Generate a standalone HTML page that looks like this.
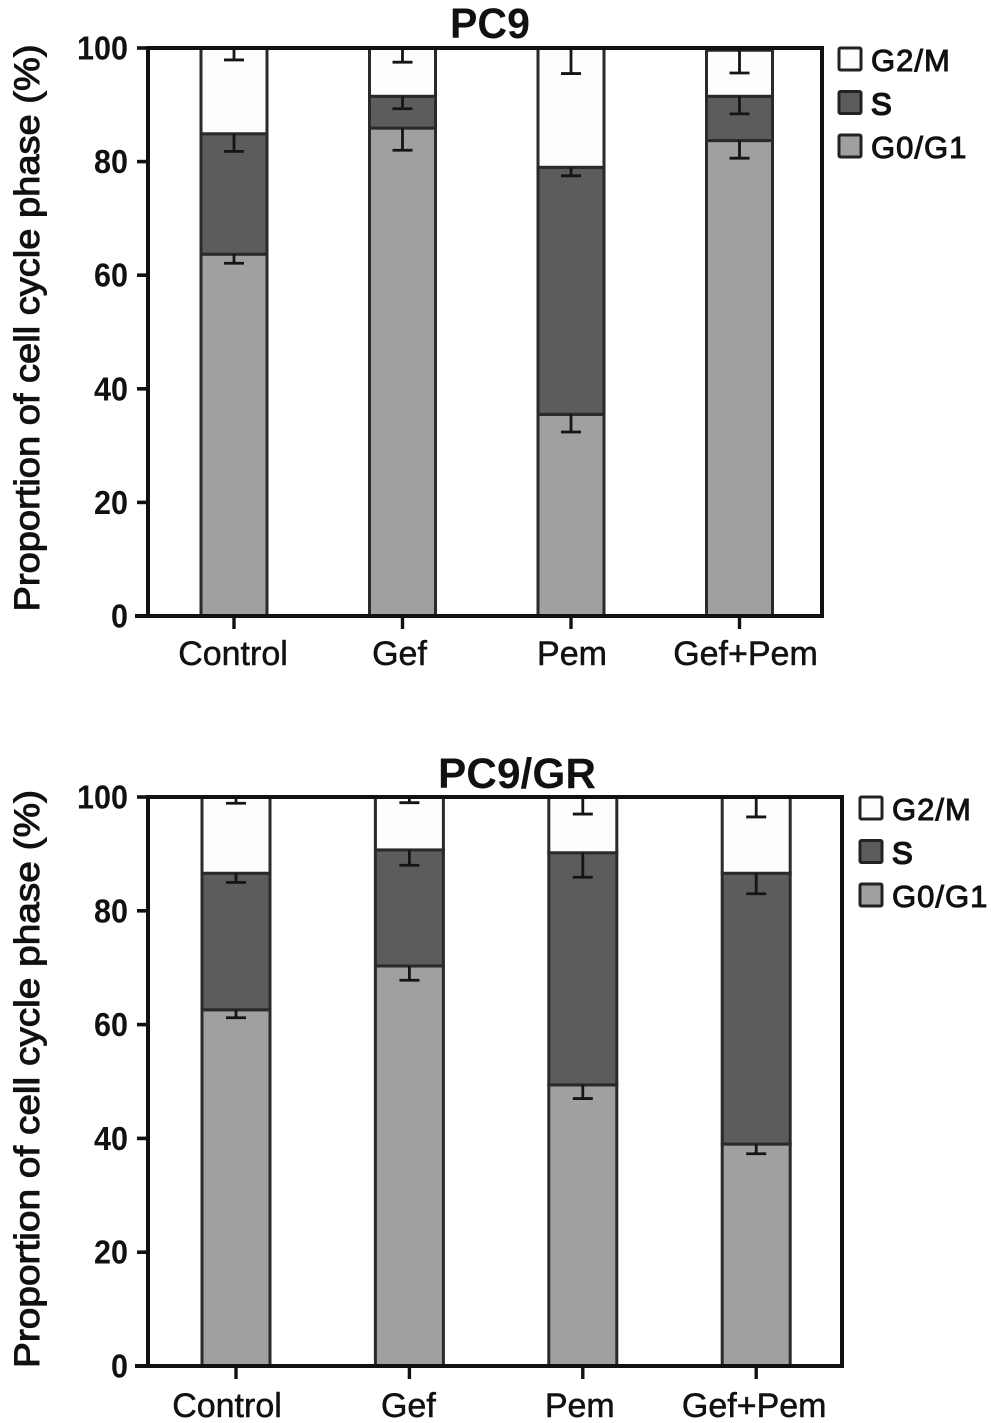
<!DOCTYPE html>
<html lang="en">
<head>
<meta charset="utf-8">
<title>Cell cycle phase proportions</title>
<style>
html,body{margin:0;padding:0;background:#fff;width:991px;height:1423px;overflow:hidden}
svg{display:block;font-family:"Liberation Sans",sans-serif}
</style>
</head>
<body>
<svg id="chart" xmlns="http://www.w3.org/2000/svg" width="991" height="1423" viewBox="0 0 991 1423"></svg>
<script>
const categories = ['Control', 'Gef', 'Pem', 'Gef+Pem'];
const tickLabels = [0, 20, 40, 60, 80, 100];
const legendLabels = ['G2/M', 'S', 'G0/G1'];

const pc9G0 = [63.7, 85.9, 35.5, 83.7];
const pc9S = [21.2, 5.6, 43.5, 7.8];
const pc9G2M = [15.1, 8.5, 21.0, 8.1];
const pc9G0Err = [1.6, 3.9, 3.1, 3.1];
const pc9SErr = [3.1, 2.2, 1.5, 3.1];
const pc9G2MErr = [2.1, 2.5, 4.5, 4.0];

const grG0 = [62.6, 70.3, 49.4, 39.0];
const grS = [24.0, 20.4, 40.8, 47.6];
const grG2M = [13.4, 9.3, 9.8, 13.4];
const grG0Err = [1.4, 2.5, 2.4, 1.7];
const grSErr = [1.6, 2.7, 4.3, 3.6];
const grG2MErr = [1.1, 1.0, 3.0, 3.5];

const svg = document.getElementById('chart');
const NS = 'http://www.w3.org/2000/svg';

function make(tag, attrs, parent, text) {
  const el = document.createElementNS(NS, tag);
  for (const k in attrs) el.setAttribute(k, attrs[k]);
  if (text !== undefined) el.textContent = text;
  parent.appendChild(el);
  return el;
}

function drawPanel(p) {
  const g = make('g', {}, svg);
  
  

  const y = v => p.y0 + (p.y100 - p.y0) * v / 100;
  const x = i => p.xStart + p.xStep * i;

  const title = make('text', {x: p.titleX, y: p.titleY, 'text-anchor': 'middle', 'font-size': 43, 'font-weight': 700, fill: '#111', textLength: p.titleW, lengthAdjust: 'spacingAndGlyphs'}, g, p.title);
  
  

  const yTitle = make('text', {transform: 'translate(' + p.yTitleX + ' ' + p.yTitleMid + ') rotate(-90)', 'text-anchor': 'middle', 'font-size': 35, fill: '#111', stroke: '#111', 'stroke-width': 1, textLength: p.yTitleLen, lengthAdjust: 'spacingAndGlyphs'}, g, 'Proportion of cell cycle phase (%)');
  
  

  categories.forEach((c, i) => {
    const bottoms = [0, p.g0[i], p.g0[i] + p.s[i]];
    const vals = [p.g0[i], p.s[i], p.g2m[i]];
    const errs = [p.g0Err[i], p.sErr[i], p.g2mErr[i]];
    const fills = ['#a0a0a0', '#5c5c5c', '#fdfdfd'];
    const names = ['g0g1', 's', 'g2m'];
    const cx = x(i);
    vals.forEach((v, j) => {
      const top = y(bottoms[j] + v);
      const bot = y(bottoms[j]);
      const r = make('rect', {x: cx - p.barW / 2, y: top, width: p.barW, height: bot - top, fill: fills[j], stroke: '#2a2a2a', 'stroke-width': 3}, g);
      
      
    });
    vals.forEach((v, j) => {
      const top = y(bottoms[j] + v);
      const low = y(bottoms[j] + v - errs[j]);
      const e = make('path', {d: 'M' + cx + ' ' + top + 'V' + low + 'M' + (cx - 10) + ' ' + low + 'H' + (cx + 10), fill: 'none', stroke: '#151515', 'stroke-width': 2.8}, g);
      
      
    });

    const xt = make('line', {x1: cx, x2: cx, y1: y(0), y2: y(0) + 13, stroke: '#111', 'stroke-width': 3.4}, g);
    
    
    const xl = make('text', {x: cx + p.labelNudge[i], y: p.labelY, 'text-anchor': 'middle', 'font-size': 34, fill: '#111', stroke: '#111', 'stroke-width': 0.5}, g, c);
    
    
  });

  const frame = make('path', {d: 'M' + p.xAxis + ' ' + y(0) + 'V' + y(100) + 'H' + p.xRight + 'V' + y(0), fill: 'none', stroke: '#111', 'stroke-width': 4}, g);
  
  
  const baseLine = make('line', {x1: p.xAxis - 13, x2: p.xRight + 2, y1: y(0), y2: y(0), stroke: '#111', 'stroke-width': 4}, g);
  
  

  tickLabels.forEach(t => {
    const tk = make('line', {x1: p.xAxis - 11, x2: p.xAxis, y1: y(t), y2: y(t), stroke: '#111', 'stroke-width': 3.6}, g);
    
    
    const s = String(t);
    const lb = make('text', {x: p.xAxis - 20, y: y(t) + 11.5, 'text-anchor': 'end', 'font-size': 33, 'font-weight': 700, fill: '#111', textLength: s.length * 17, lengthAdjust: 'spacingAndGlyphs'}, g, s);
    
    
  });

  const swatchFills = ['#fdfdfd', '#5c5c5c', '#a0a0a0'];
  legendLabels.forEach((l, i) => {
    const ly = p.legendY + i * 43.5;
    const sw = make('rect', {x: p.legendX, y: ly, width: 22, height: 22, rx: 1.5, fill: swatchFills[i], stroke: '#222', 'stroke-width': 3}, g);
    
    
    const tx = make('text', {x: p.legendX + 32, y: ly + 23, 'font-size': 31, fill: '#111', stroke: '#111', 'stroke-width': i === 1 ? 1.6 : 1, 'letter-spacing': 1}, g, l);
    
    
  });
}

drawPanel({
  id: 'pc9', title: 'PC9', titleX: 490, titleY: 38, titleW: 80,
  y0: 616, y100: 48, xAxis: 148, xRight: 822,
  xStart: 234, xStep: 168.5, barW: 66,
  labelY: 665, labelNudge: [-1, -3, 1, 6],
  yTitleX: 39, yTitleMid: 328, yTitleLen: 567,
  legendX: 839, legendY: 48,
  g0: pc9G0, s: pc9S, g2m: pc9G2M, g0Err: pc9G0Err, sErr: pc9SErr, g2mErr: pc9G2MErr
});

drawPanel({
  id: 'pc9-gr', title: 'PC9/GR', titleX: 517, titleY: 788, titleW: 158,
  y0: 1366, y100: 797, xAxis: 148, xRight: 842,
  xStart: 236, xStep: 173.4, barW: 68,
  labelY: 1417, labelNudge: [-9, -1, -3, -2],
  yTitleX: 39, yTitleMid: 1079, yTitleLen: 578,
  legendX: 860, legendY: 797,
  g0: grG0, s: grS, g2m: grG2M, g0Err: grG0Err, sErr: grSErr, g2mErr: grG2MErr
});
</script>
</body>
</html>
